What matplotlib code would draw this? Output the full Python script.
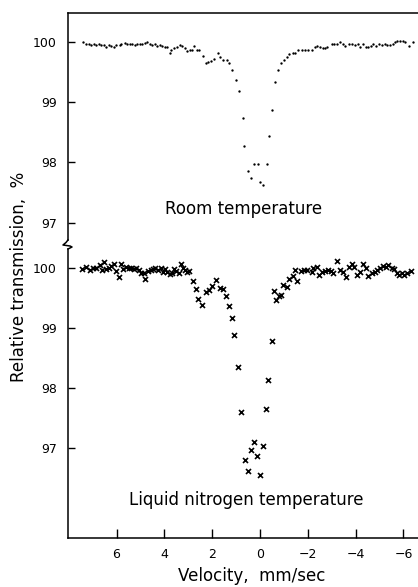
import matplotlib
matplotlib.use("Agg")
import matplotlib.pyplot as plt
from matplotlib.lines import Line2D

# ---------------- data ----------------
rt_velocity = [
    7.41, 7.27, 7.17, 7.06, 6.95, 6.85, 6.75, 6.64, 6.53, 6.43, 6.33, 6.22, 6.11, 6.01,
    5.87, 5.80, 5.66, 5.55, 5.45, 5.36, 5.24, 5.13, 5.03, 4.94, 4.82, 4.72, 4.62, 4.52,
    4.38, 4.30, 4.20, 4.10, 3.99, 3.88, 3.78, 3.71, 3.60, 3.46, 3.35, 3.26, 3.15, 3.05,
    2.94,
    2.86, 2.75, 2.65, 2.56, 2.40, 2.27, 2.16, 2.04, 1.91, 1.76, 1.66, 1.56, 1.39, 1.28,
    1.17, 0.99, 0.87, 0.72, 0.66, 0.51, 0.39, 0.25, 0.08, 0.00, -0.13, -0.28, -0.38,
    -0.51, -0.64, -0.74, -0.89, -1.00, -1.14, -1.23,
    -1.37, -1.46, -1.60, -1.74, -1.88, -2.02, -2.16, -2.30, -2.40, -2.51, -2.62, -2.72,
    -2.82, -3.00, -3.11, -3.23, -3.35, -3.46, -3.57, -3.72, -3.84, -3.97, -4.11, -4.18,
    -4.32, -4.42, -4.52, -4.63, -4.74, -4.85, -4.98, -5.09, -5.23, -5.33, -5.44, -5.58,
    -5.65, -5.74, -5.86, -5.97, -6.08, -6.25, -6.39,
]
rt_transmission = [
    100.00, 99.97, 99.96, 99.95, 99.96, 99.95, 99.96, 99.94, 99.95, 99.92, 99.95, 99.93,
    99.91, 99.94, 99.95, 99.96, 99.98, 99.97, 99.97, 99.96, 99.95, 99.96, 99.96, 99.97,
    99.98, 100.00, 99.96, 99.95, 99.97, 99.93, 99.95, 99.93, 99.91, 99.92, 99.82, 99.87,
    99.89, 99.92, 99.95, 99.93, 99.89, 99.85, 99.87,
    99.87, 99.93, 99.87, 99.86, 99.77, 99.64, 99.66, 99.68, 99.72, 99.81, 99.75, 99.69,
    99.70, 99.64, 99.53, 99.36, 99.19, 98.74, 98.27, 97.85, 97.74, 97.97, 97.97, 97.68,
    97.62, 97.97, 98.44, 98.87, 99.33, 99.53, 99.65, 99.70, 99.75, 99.79,
    99.81, 99.82, 99.86, 99.87, 99.86, 99.87, 99.87, 99.91, 99.93, 99.92, 99.90, 99.89,
    99.91, 99.97, 99.97, 99.97, 100.00, 99.97, 99.93, 99.96, 99.97, 99.95, 99.97, 99.92,
    99.96, 99.91, 99.92, 99.93, 99.96, 99.93, 99.96, 99.95, 99.97, 99.95, 99.95, 99.97,
    100.00, 100.01, 100.01, 100.01, 100.00, 99.93, 100.00,
]

ln_velocity = [
    7.45, 7.27, 7.13, 6.99, 6.85, 6.71, 6.61, 6.53, 6.43, 6.33, 6.22, 6.11, 6.01, 5.91,
    5.83, 5.73, 5.59, 5.49, 5.38, 5.27, 5.18, 5.08, 4.97, 4.85, 4.80, 4.69, 4.57, 4.48,
    4.38, 4.27, 4.15, 4.06, 3.96, 3.88, 3.78, 3.68, 3.60, 3.50, 3.40, 3.29, 3.22, 3.13,
    3.04,
    2.96, 2.82, 2.68, 2.58, 2.44, 2.27, 2.12, 2.00, 1.84, 1.67, 1.56, 1.44, 1.31, 1.16,
    1.08, 0.92, 0.79, 0.63, 0.49, 0.39, 0.25, 0.11, -0.01, -0.14, -0.24, -0.35, -0.49,
    -0.59, -0.68, -0.78, -0.87, -0.97, -1.12, -1.21,
    -1.37, -1.46, -1.56, -1.70, -1.84, -1.98, -2.16, -2.23, -2.37, -2.48, -2.58, -2.72,
    -2.86, -2.96, -3.07, -3.23, -3.35, -3.49, -3.60, -3.74, -3.84, -3.93, -4.07, -4.18,
    -4.30, -4.44, -4.53, -4.67, -4.81, -4.88, -5.02, -5.16, -5.27, -5.37, -5.51, -5.61,
    -5.72, -5.83, -5.93, -6.03, -6.14, -6.31,
]
ln_transmission = [
    99.98, 100.02, 99.96, 99.99, 100.00, 100.04, 99.96, 100.09, 99.98, 100.00, 100.03,
    100.07, 99.95, 99.85, 100.07, 99.98, 100.02, 100.00, 100.00, 99.98, 99.99, 99.96,
    99.92, 99.91, 99.81, 99.95, 99.96, 99.98, 99.99, 99.96, 99.99, 99.93, 99.98, 99.93,
    99.89, 99.91, 99.98, 99.95, 99.92, 100.07, 100.00, 99.96, 99.93,
    99.95, 99.78, 99.64, 99.48, 99.38, 99.60, 99.63, 99.70, 99.80, 99.67, 99.65, 99.53,
    99.37, 99.17, 98.88, 98.35, 97.60, 96.81, 96.63, 96.98, 97.10, 96.87, 96.55, 97.04,
    97.65, 98.13, 98.79, 99.61, 99.47, 99.53, 99.55, 99.72, 99.68, 99.82,
    99.87, 99.96, 99.78, 99.95, 99.96, 99.96, 99.93, 99.99, 100.02, 99.88, 99.93, 99.95,
    99.96, 99.95, 99.92, 100.11, 99.96, 99.93, 99.85, 100.02, 100.06, 100.02, 99.88,
    99.93, 100.06, 99.99, 99.87, 99.91, 99.93, 99.96, 99.99, 100.03, 100.02, 100.04,
    100.00, 99.98, 99.91, 99.88, 99.92, 99.88, 99.91, 99.95,
]

x_ticks = [6, 4, 2, 0, -2, -4, -6]
x_tick_labels = ["6", "4", "2", "0", "\u22122", "\u22124", "\u22126"]
y_ticks = [97, 98, 99, 100]
y_tick_labels = ["97", "98", "99", "100"]

# ---------------- layout ----------------
W, H = 418, 587
fig = plt.figure(figsize=(W / 100, H / 100), dpi=100)
fig.patch.set_facecolor("white")


def rect(left, top, right, bottom):
    return [left / W, 1 - bottom / H, (right - left) / W, (bottom - top) / H]


ax_top = fig.add_axes(rect(68, 12.7, 418, 240))
ax_bot = fig.add_axes(rect(68, 249, 418, 538))

for ax in (ax_top, ax_bot):
    ax.set_xlim(8.03, -6.61)
    ax.spines["right"].set_visible(False)
    for s in ax.spines.values():
        s.set_linewidth(1.1)
    ax.tick_params(direction="in", length=5, width=1.0, pad=8, labelsize=9,
                   colors="black")
    ax.set_yticks(y_ticks)
    ax.set_yticklabels(y_tick_labels)

ax_top.set_ylim(96.711, 100.481)
ax_top.spines["bottom"].set_visible(False)
ax_top.set_xticks([])

ax_bot.set_ylim(95.510, 100.311)
ax_bot.spines["top"].set_visible(False)
ax_bot.set_xticks(x_ticks)
ax_bot.set_xticklabels(x_tick_labels)
ax_bot.tick_params(axis="x", length=6.5, pad=7)

ax_top.plot(rt_velocity, rt_transmission, linestyle="none", marker="o",
            markersize=1.7, color="black", markeredgewidth=0)
ax_bot.plot(ln_velocity, ln_transmission, linestyle="none", marker="x",
            markersize=3.6, color="black", markeredgewidth=1.2)

# axis break symbol on the left spine
zx = [68, 66, 63, 70, 72, 68]
zy = [240, 242.5, 245, 246, 247, 249]
fig.add_artist(Line2D([x / W for x in zx], [1 - y / H for y in zy],
                      transform=fig.transFigure, color="black", linewidth=1.1))

fig.text(244 / W, 1 - 209 / H, "Room temperature", ha="center", va="center",
         fontsize=12)
fig.text(246.5 / W, 1 - 500 / H, "Liquid nitrogen temperature", ha="center",
         va="center", fontsize=12)
fig.text(252 / W, 1 - 576 / H, "Velocity,  mm/sec", ha="center", va="center",
         fontsize=12)
fig.text(19 / W, 1 - 276.5 / H, "Relative transmission,  %", rotation=90,
         ha="center", va="center", fontsize=12)

fig.savefig("out.png", dpi=100)
